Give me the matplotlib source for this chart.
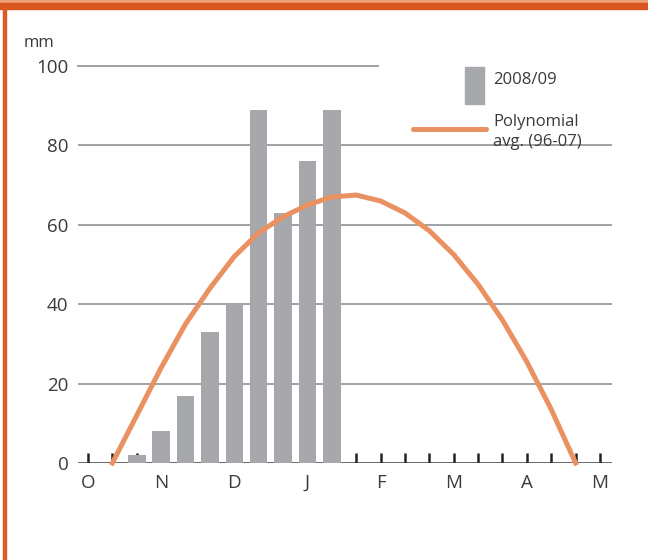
import numpy as np
import matplotlib
matplotlib.use("Agg")
from matplotlib import pyplot as plt
from matplotlib.patches import Rectangle
from matplotlib.lines import Line2D

plt.rcParams['font.family'] = ['Open Sans', 'DejaVu Sans']

# Data: x positions are 10-day steps from start of October
months = ["O", "N", "D", "J", "F", "M", "A", "M"]
bar_pos = [2, 3, 4, 5, 6, 7, 8, 9, 10]
bar_mm = [2, 8, 17, 33, 40, 89, 63, 76, 89]
poly_pos = list(range(1, 21))
poly_mm = [0, 12, 24, 35, 44, 52, 58, 62, 65, 67, 67.5, 66, 63, 58.5, 52.5, 45, 36, 25.5, 13.5, 0]
yticks = [0, 20, 40, 60, 80, 100]

bar_color = "#a7a8ab"
line_color = "#ea9161"
text_color = "#3a3a3a"
W, H = 648, 560

fig = plt.figure(figsize=(W / 100, H / 100), dpi=100)

def px(x, y):
    return x / W, 1 - y / H

# axes placed in pixels
x0, x1, y0, y1 = 78, 612, 463, 66
ax = fig.add_axes([x0 / W, 1 - y0 / H, (x1 - x0) / W, (y0 - y1) / H])
step = 24.38
ax.set_xlim(-(88 - x0) / step, (x1 - 88) / step)
ax.set_ylim(0, 100)
for s in ax.spines.values():
    s.set_visible(False)

# grid lines
for v in yticks[1:-1]:
    ax.axhline(v, color="#9a9a9c", lw=1.3, zorder=0)
ax.axhline(100, xmax=(378 - x0) / (x1 - x0), color="#9a9a9c", lw=1.3, zorder=0,
           clip_on=False)

# small tick marks every 10 days
ticks = np.arange(0, 22)
ax.vlines(ticks, 0, 2.6, color="#222222", lw=1.8, zorder=1)
ax.axhline(0, color="#3a3a3a", lw=1.8, zorder=1)

ax.bar(bar_pos, bar_mm, width=0.72, color=bar_color, zorder=2)
ax.plot(poly_pos, poly_mm, color=line_color, lw=3.6, zorder=3,
        solid_joinstyle="miter", clip_on=False)

ax.set_yticks(yticks)
ax.set_yticklabels([str(v) for v in yticks])
ax.set_xticks(np.arange(0, 22, 3))
ax.set_xticklabels(months)
ax.tick_params(axis="y", length=0, pad=7, labelsize=13.5, labelcolor=text_color)
ax.tick_params(axis="x", length=0, pad=8, labelsize=13.5, labelcolor=text_color)

fig.text(*px(24, 43), "mm", fontsize=12, color=text_color, va="center", ha="left")

# legend drawn by hand
lx, ly = px(465, 104)
fig.add_artist(Rectangle((lx, ly), 19 / W, 37 / H, transform=fig.transFigure,
                         color=bar_color))
fig.text(*px(493, 80), "2008/09", fontsize=12, color=text_color, va="center")
fig.add_artist(Line2D([413 / W, 486 / W], [1 - 129 / H] * 2, transform=fig.transFigure,
                      color=line_color, lw=3.6, solid_capstyle="round"))
fig.text(*px(493, 132), "Polynomial\navg. (96-07)", fontsize=12, color=text_color,
         va="center", linespacing=1.4)

# orange frame
fig.add_artist(Rectangle(px(0, 3), 1, 3 / H, transform=fig.transFigure, color="#eda176"))
fig.add_artist(Rectangle(px(0, 8.5), 1, 5.5 / H, transform=fig.transFigure, color="#d9561f"))
fig.add_artist(Rectangle(px(3, H), 3 / W, 1 - 8 / H, transform=fig.transFigure, color="#dc5a24"))

fig.savefig("out.png", dpi=100)
